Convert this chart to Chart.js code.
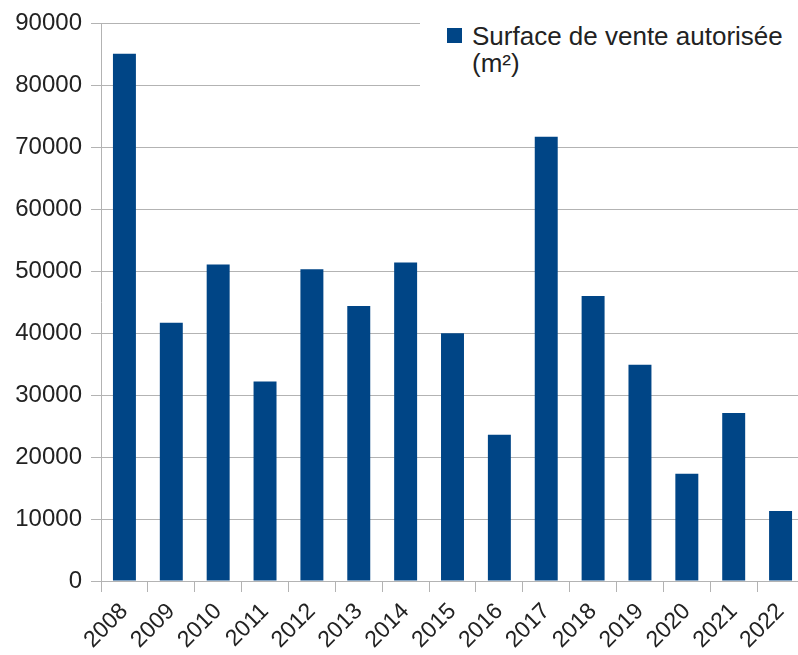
<!DOCTYPE html>
<html>
<head>
<meta charset="utf-8">
<script src="https://cdn.jsdelivr.net/npm/chart.js@4/dist/chart.umd.min.js"></script>
<style>
  html, body { margin: 0; padding: 0; background: #fff; overflow: hidden; }
  #wrap { position: relative; width: 808px; height: 655px; }
  #legend {
    position: absolute; left: 420px; top: 0; width: 388px; height: 100px;
    background: #fff; font-family: "Liberation Sans", Arial, sans-serif;
    font-size: 26px; line-height: 27px; color: #222;
  }
  #legend .box { position: absolute; left: 27px; top: 28px; width: 15px; height: 15px; background: #004586; }
  #legend .txt { position: absolute; left: 52px; top: 23px; }
</style>
</head>
<body>
<div id="wrap">
  <canvas id="chart" width="808" height="655"></canvas>
  <div id="legend"><span class="box"></span><span class="txt" id="legendText"></span></div>
</div>
<script>
// Data
const years = ['2008', '2009', '2010', '2011', '2012', '2013', '2014', '2015',
               '2016', '2017', '2018', '2019', '2020', '2021', '2022'];
const surfaces = [85100, 41700, 51100, 32200, 50300, 44400, 51400, 40000,
                  23600, 71700, 46000, 34900, 17300, 27100, 11300];
const seriesLabel = ['Surface de vente autorisée', '(m²)'];
const yMin = 0;
const yMax = 90000;
const yStep = 10000;

const FONT = '"Liberation Sans", Arial, sans-serif';
const GRID = '#b3b3b3';

document.getElementById('legendText').innerHTML = seriesLabel.join('<br>');

new Chart(document.getElementById('chart'), {
    type: 'bar',
    data: {
        labels: years,
        datasets: [{
            label: seriesLabel.join(' '),
            data: surfaces,
            backgroundColor: '#004586',
            borderWidth: 0,
            categoryPercentage: 1,
            barPercentage: 0.49
        }]
    },
    options: {
        responsive: false,
        animation: false,
        layout: { padding: { top: 20, right: 4, left: 0, bottom: 0 } },
        plugins: {
            legend: { display: false },
            tooltip: { enabled: false }
        },
        scales: {
            x: {
                offset: true,
                grid: {
                    offset: true,
                    drawOnChartArea: false,
                    color: GRID,
                    tickLength: 11
                },
                border: { color: GRID, width: 1 },
                ticks: {
                    minRotation: 45,
                    maxRotation: 45,
                    autoSkip: false,
                    padding: 6,
                    color: '#222',
                    font: { family: FONT, size: 23 }
                },
                afterFit: function(scale) { scale.height = 74; }
            },
            y: {
                min: yMin,
                max: yMax,
                ticks: {
                    stepSize: yStep,
                    padding: 9,
                    color: '#222',
                    font: { family: FONT, size: 24 },
                    callback: function(value) { return String(value); }
                },
                grid: { color: GRID, tickLength: 10 },
                border: { color: GRID, width: 1 },
                afterFit: function(scale) { scale.width = 101; }
            }
        }
    }
});
</script>
</body>
</html>
